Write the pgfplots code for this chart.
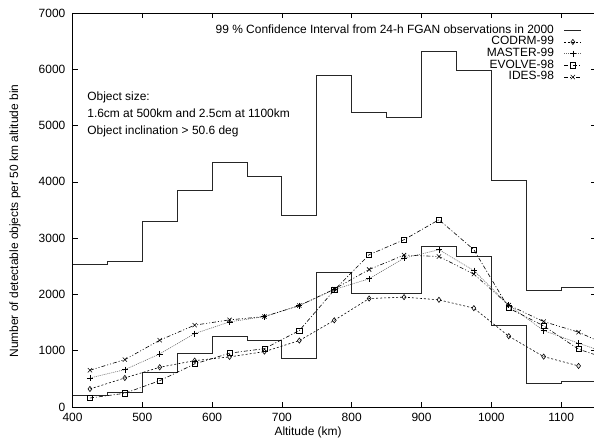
\documentclass[border=0pt]{standalone}
\usepackage{fontspec}
\setmainfont{Liberation Sans}
\usepackage{pgfplots}
\pgfplotsset{compat=1.18}
\begin{document}
\fontsize{12}{14}\selectfont
\begin{tikzpicture}
\begin{axis}[
  name=ax,
  scale only axis,
  width=523.5bp, height=394bp,
  xmin=400, xmax=1150, ymin=0, ymax=7000,
  xtick={400,500,...,1100},
  ytick={0,1000,...,7000},
  tick align=inside,
  major tick length=5bp,
  tick style={black, line width=0.6bp},
  axis line style={black, line width=0.8bp},
  /pgf/number format/assume math mode=true,
  /pgf/number format/1000 sep={},
  scaled ticks=false,
  tick label style={font=\fontsize{12}{14}\selectfont},
  label style={font=\fontsize{12}{14}\selectfont},
  xlabel={Altitude (km)},
  ylabel={Number of detectable objects per 50 km altitude bin},
  x label style={at={(axis description cs:0.45,-0.0635)}, anchor=center},
  y label style={at={(axis description cs:-0.1098,0.472)}, anchor=center},
  xticklabel style={yshift=-1.5bp},
  yticklabel style={xshift=-3bp},
  legend style={draw=none, fill=none, at={(axis description cs:0.9733,0.9713)}, anchor=north east,
    inner sep=0pt, row sep=0.2bp, column sep=0pt,
    font=\fontsize{12}{12}\selectfont,
    nodes={inner sep=0pt, text height=8.5bp, text depth=3bp},
    legend cell align=right},
  legend plot pos=right,
  legend image code/.code={\path (0bp,0bp); \draw[mark repeat=2,mark phase=2,#1] plot coordinates {(10bp,0bp) (18.5bp,0bp) (27bp,0bp)};},
  clip=true,
]
\addplot[const plot, black!85, line width=0.9bp] coordinates {
(400,2540) (450,2585) (500,3290) (550,3852) (600,4337) (650,4090) (700,3400) (750,5895)
(800,5225) (850,5140) (900,6325) (950,5985) (1000,4021) (1050,2064) (1100,2130) (1150,2130)};
\addlegendentry{99 \% Confidence Interval from 24-h FGAN observations in 2000}
\addplot[const plot, black!85, line width=0.9bp, forget plot] coordinates {
(400,214) (450,267) (500,610) (550,943) (600,1258) (650,1187) (700,866) (750,2390)
(800,2023) (850,2023) (900,2847) (950,2674) (1000,1447) (1050,422) (1100,450) (1150,450)};
\addplot[black, line width=0.6bp, dash pattern=on 2bp off 2bp, mark=diamond, mark size=2.6bp,
  mark options={solid, line width=0.6bp}] coordinates {
(425,320) (475,516) (525,706) (575,824) (625,890) (675,984) (725,1180) (775,1540)
(825,1927) (875,1952) (925,1904) (975,1756) (1025,1258) (1075,895) (1125,730)};
\addlegendentry{CODRM-99}
\addplot[black!60, line width=0.6bp, dash pattern=on 1bp off 1bp, mark=+, mark size=3bp,
  mark options={solid, black, line width=0.6bp}] coordinates {
(425,516) (475,664) (525,943) (575,1304) (625,1512) (675,1607) (725,1802) (775,2087)
(825,2278) (875,2646) (925,2794) (975,2425) (1025,1810) (1075,1358) (1125,1133) (1175,920)};
\addlegendentry{MASTER-99}
\addplot[black, line width=0.6bp, dash pattern=on 4bp off 2bp on 1bp off 2bp, mark=square, mark size=2.6bp,
  mark options={solid, line width=0.6bp}] coordinates {
(425,160) (475,244) (525,468) (575,765) (625,956) (675,1037) (725,1358) (775,2077)
(825,2705) (875,2972) (925,3327) (975,2794) (1025,1756) (1075,1441) (1125,1027) (1175,820)};
\addlegendentry{EVOLVE-98}
\addplot[black, line width=0.6bp, dash pattern=on 4bp off 2bp on 1bp off 2bp on 1bp off 2bp, mark=x, mark size=3bp,
  mark options={solid, line width=0.6bp}] coordinates {
(425,653) (475,842) (525,1187) (575,1454) (625,1548) (675,1607) (725,1802) (775,2094)
(825,2443) (875,2699) (925,2674) (975,2361) (1025,1810) (1075,1518) (1125,1329) (1175,1050)};
\addlegendentry{IDES-98}
\node[anchor=west, align=left, inner sep=0pt, font=\fontsize{12}{17}\selectfont] at (axis cs:421,5196)
  {Object size:\\1.6cm at 500km and 2.5cm at 1100km\\Object inclination > 50.6 deg};
\end{axis}
\pgfresetboundingbox
\path ([xshift=-72.5bp,yshift=-32bp]ax.south west) rectangle ([xshift=-2bp,yshift=13bp]ax.north east);
\end{tikzpicture}
\end{document}
